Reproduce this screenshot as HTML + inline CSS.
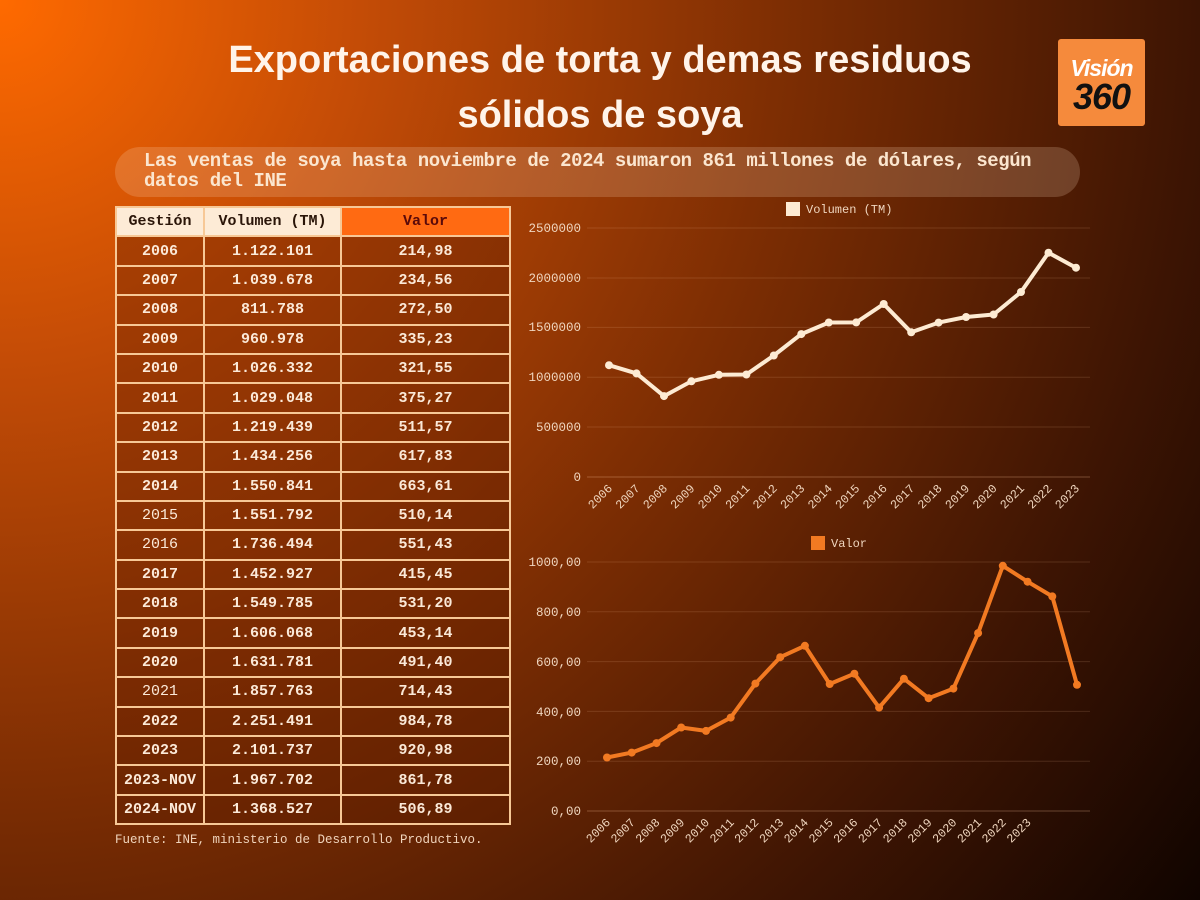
<!DOCTYPE html>
<html><head><meta charset="utf-8"><style>
body{margin:0;width:1200px;height:900px;overflow:hidden;background:radial-gradient(circle at 0 0,#ff6a00 0,#c44c06 24%,#7e2e03 52%,#3c1403 80%,#100400 100%);font-family:"Liberation Mono",monospace;position:relative}
.t{position:absolute;left:0;width:1200px;text-align:center;color:#fff4ea;font:bold 38px "Liberation Sans",sans-serif}
.sub{position:absolute;left:115px;top:147px;width:965px;height:50px;border-radius:25px;background:rgba(255,220,190,0.2)}
.sub div{position:absolute;left:29px;top:4px;color:#fbe6cf;font:bold 19px/20px "Liberation Mono",monospace;letter-spacing:-0.45px;white-space:nowrap}
table{position:absolute;left:115px;top:206px;border-collapse:collapse;border:2px solid #f7c896}
td{border:2px solid #f7c896;height:27.4px;padding:0;text-align:center;color:#fbe9d8;font:bold 15px "Liberation Mono",monospace;background:rgba(90,25,0,0.35)}
tr.h td{background:#fdebd6;color:#2a1508}
tr.h td.v{background:#ff6a12;color:#5a0a0a}
.foot{position:absolute;left:115px;top:833px;color:#f0d4bc;font:12.5px "Liberation Mono",monospace}
.logo{position:absolute;left:1058px;top:39px;width:87px;height:87px;background:#f58a3c;border-radius:3px;text-align:center}
</style></head><body>
<div class="t" style="top:39px">Exportaciones de torta y demas residuos</div>
<div class="t" style="top:94px">sólidos de soya</div>
<div class="logo"><div style="font:italic bold 23px 'Liberation Sans',sans-serif;color:#fff;margin-top:16px;letter-spacing:-1px">Visión</div><div style="font:italic bold 36px 'Liberation Sans',sans-serif;color:#111;margin-top:-6px;letter-spacing:-1px">360</div></div>
<div class="sub"><div>Las ventas de soya hasta noviembre de 2024 sumaron 861 millones de dólares, según<br>datos del INE</div></div>
<table>
<tr class="h"><td style="width:86px">Gestión</td><td style="width:135px">Volumen (TM)</td><td class="v" style="width:167px">Valor</td></tr>
<tr><td>2006</td><td>1.122.101</td><td>214,98</td></tr>
<tr><td>2007</td><td>1.039.678</td><td>234,56</td></tr>
<tr><td>2008</td><td>811.788</td><td>272,50</td></tr>
<tr><td>2009</td><td>960.978</td><td>335,23</td></tr>
<tr><td>2010</td><td>1.026.332</td><td>321,55</td></tr>
<tr><td>2011</td><td>1.029.048</td><td>375,27</td></tr>
<tr><td>2012</td><td>1.219.439</td><td>511,57</td></tr>
<tr><td>2013</td><td>1.434.256</td><td>617,83</td></tr>
<tr><td>2014</td><td>1.550.841</td><td>663,61</td></tr>
<tr><td style="font-weight:normal">2015</td><td>1.551.792</td><td>510,14</td></tr>
<tr><td style="font-weight:normal">2016</td><td>1.736.494</td><td>551,43</td></tr>
<tr><td>2017</td><td>1.452.927</td><td>415,45</td></tr>
<tr><td>2018</td><td>1.549.785</td><td>531,20</td></tr>
<tr><td>2019</td><td>1.606.068</td><td>453,14</td></tr>
<tr><td>2020</td><td>1.631.781</td><td>491,40</td></tr>
<tr><td style="font-weight:normal">2021</td><td>1.857.763</td><td>714,43</td></tr>
<tr><td>2022</td><td>2.251.491</td><td>984,78</td></tr>
<tr><td>2023</td><td>2.101.737</td><td>920,98</td></tr>
<tr><td>2023-NOV</td><td>1.967.702</td><td>861,78</td></tr>
<tr><td>2024-NOV</td><td>1.368.527</td><td>506,89</td></tr>
</table>
<div class="foot">Fuente: INE, ministerio de Desarrollo Productivo.</div>
<svg width="1200" height="900" style="position:absolute;left:0;top:0" font-family="Liberation Mono,monospace" font-size="12.5">
<g stroke="rgba(255,200,160,0.15)" stroke-width="1">
<line x1="587" x2="1090" y1="228" y2="228"/><line x1="587" x2="1090" y1="278" y2="278"/><line x1="587" x2="1090" y1="327.4" y2="327.4"/><line x1="587" x2="1090" y1="377.2" y2="377.2"/><line x1="587" x2="1090" y1="427" y2="427"/><line x1="587" x2="1090" y1="477" y2="477" stroke="rgba(255,200,160,0.3)"/>
<line x1="587" x2="1090" y1="562" y2="562"/><line x1="587" x2="1090" y1="611.8" y2="611.8"/><line x1="587" x2="1090" y1="661.6" y2="661.6"/><line x1="587" x2="1090" y1="711.4" y2="711.4"/><line x1="587" x2="1090" y1="761.2" y2="761.2"/><line x1="587" x2="1090" y1="811" y2="811" stroke="rgba(255,200,160,0.3)"/>
</g>
<g fill="#f0d6bf" text-anchor="end">
<text x="581" y="232">2500000</text><text x="581" y="282">2000000</text><text x="581" y="331">1500000</text><text x="581" y="381">1000000</text><text x="581" y="431">500000</text><text x="581" y="481">0</text>
<text x="581" y="566">1000,00</text><text x="581" y="616">800,00</text><text x="581" y="666">600,00</text><text x="581" y="716">400,00</text><text x="581" y="765">200,00</text><text x="581" y="815">0,00</text>
</g>
<rect x="786" y="202" width="14" height="14" fill="#fdebd3"/><text x="806" y="213" fill="#f0d6bf" font-size="12">Volumen (TM)</text>
<rect x="811" y="536" width="14" height="14" fill="#f27a22"/><text x="831" y="547" fill="#f0d6bf" font-size="12">Valor</text>
<polyline fill="none" stroke="#fdebd3" stroke-width="4" stroke-linejoin="round" points="609,365.2 636.5,373.4 664,396.1 691.4,381.3 718.9,374.8 746.4,374.5 773.8,355.5 801.3,334.1 828.8,322.5 856.2,322.4 883.7,304 911.2,332.3 938.6,322.6 966.1,317 993.6,314.5 1021,292 1048.5,252.7 1076,267.7"/>
<g fill="#fdebd3"><circle cx="609" cy="365.2" r="4"/><circle cx="636.5" cy="373.4" r="4"/><circle cx="664" cy="396.1" r="4"/><circle cx="691.4" cy="381.3" r="4"/><circle cx="718.9" cy="374.8" r="4"/><circle cx="746.4" cy="374.5" r="4"/><circle cx="773.8" cy="355.5" r="4"/><circle cx="801.3" cy="334.1" r="4"/><circle cx="828.8" cy="322.5" r="4"/><circle cx="856.2" cy="322.4" r="4"/><circle cx="883.7" cy="304" r="4"/><circle cx="911.2" cy="332.3" r="4"/><circle cx="938.6" cy="322.6" r="4"/><circle cx="966.1" cy="317" r="4"/><circle cx="993.6" cy="314.5" r="4"/><circle cx="1021" cy="292" r="4"/><circle cx="1048.5" cy="252.7" r="4"/><circle cx="1076" cy="267.7" r="4"/></g>
<polyline fill="none" stroke="#f27a22" stroke-width="4" stroke-linejoin="round" points="607,757.5 631.7,752.6 656.5,743.1 681.2,727.5 706,730.9 730.7,717.6 755.4,683.6 780.2,657.2 804.9,645.8 829.7,684 854.4,673.7 879.1,707.6 903.9,678.7 928.6,698.2 953.4,688.6 978.1,633.1 1002.8,565.8 1027.6,581.7 1052.3,596.4 1077,684.8"/>
<g fill="#f27a22"><circle cx="607" cy="757.5" r="4"/><circle cx="631.7" cy="752.6" r="4"/><circle cx="656.5" cy="743.1" r="4"/><circle cx="681.2" cy="727.5" r="4"/><circle cx="706" cy="730.9" r="4"/><circle cx="730.7" cy="717.6" r="4"/><circle cx="755.4" cy="683.6" r="4"/><circle cx="780.2" cy="657.2" r="4"/><circle cx="804.9" cy="645.8" r="4"/><circle cx="829.7" cy="684" r="4"/><circle cx="854.4" cy="673.7" r="4"/><circle cx="879.1" cy="707.6" r="4"/><circle cx="903.9" cy="678.7" r="4"/><circle cx="928.6" cy="698.2" r="4"/><circle cx="953.4" cy="688.6" r="4"/><circle cx="978.1" cy="633.1" r="4"/><circle cx="1002.8" cy="565.8" r="4"/><circle cx="1027.6" cy="581.7" r="4"/><circle cx="1052.3" cy="596.4" r="4"/><circle cx="1077" cy="684.8" r="4"/></g>
<g fill="#f0d6bf" text-anchor="end" font-size="12">
<text transform="translate(613,489) rotate(-45)">2006</text><text transform="translate(640.5,489) rotate(-45)">2007</text><text transform="translate(668,489) rotate(-45)">2008</text><text transform="translate(695.4,489) rotate(-45)">2009</text><text transform="translate(722.9,489) rotate(-45)">2010</text><text transform="translate(750.4,489) rotate(-45)">2011</text><text transform="translate(777.8,489) rotate(-45)">2012</text><text transform="translate(805.3,489) rotate(-45)">2013</text><text transform="translate(832.8,489) rotate(-45)">2014</text><text transform="translate(860.2,489) rotate(-45)">2015</text><text transform="translate(887.7,489) rotate(-45)">2016</text><text transform="translate(915.2,489) rotate(-45)">2017</text><text transform="translate(942.6,489) rotate(-45)">2018</text><text transform="translate(970.1,489) rotate(-45)">2019</text><text transform="translate(997.6,489) rotate(-45)">2020</text><text transform="translate(1025,489) rotate(-45)">2021</text><text transform="translate(1052.5,489) rotate(-45)">2022</text><text transform="translate(1080,489) rotate(-45)">2023</text>
<text transform="translate(611,823) rotate(-45)">2006</text><text transform="translate(635.7,823) rotate(-45)">2007</text><text transform="translate(660.5,823) rotate(-45)">2008</text><text transform="translate(685.2,823) rotate(-45)">2009</text><text transform="translate(710,823) rotate(-45)">2010</text><text transform="translate(734.7,823) rotate(-45)">2011</text><text transform="translate(759.4,823) rotate(-45)">2012</text><text transform="translate(784.2,823) rotate(-45)">2013</text><text transform="translate(808.9,823) rotate(-45)">2014</text><text transform="translate(833.7,823) rotate(-45)">2015</text><text transform="translate(858.4,823) rotate(-45)">2016</text><text transform="translate(883.1,823) rotate(-45)">2017</text><text transform="translate(907.9,823) rotate(-45)">2018</text><text transform="translate(932.6,823) rotate(-45)">2019</text><text transform="translate(957.4,823) rotate(-45)">2020</text><text transform="translate(982.1,823) rotate(-45)">2021</text><text transform="translate(1006.8,823) rotate(-45)">2022</text><text transform="translate(1031.6,823) rotate(-45)">2023</text>
</g>
</svg>
</body></html>
